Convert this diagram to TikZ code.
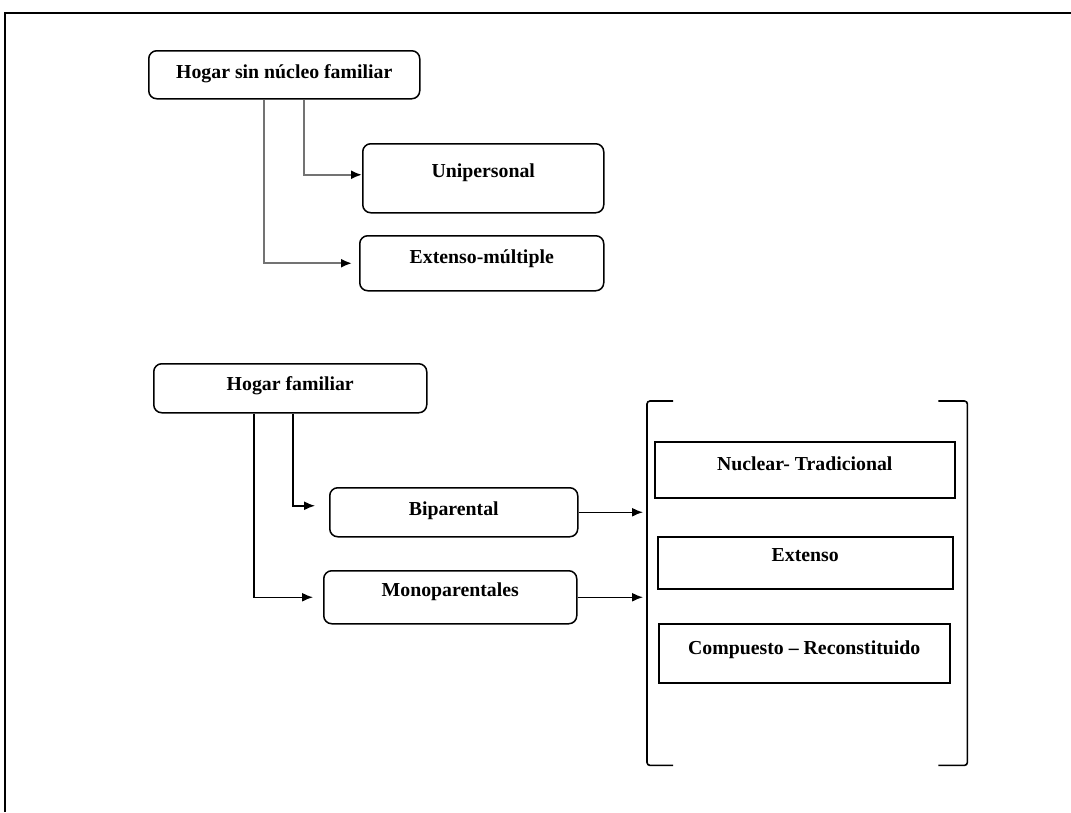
\documentclass[tikz,border=0pt]{standalone}
\usepackage{fontspec}
\setmainfont{Liberation Serif}
\usepackage{tikz}
\usetikzlibrary{arrows.meta,positioning}

\begin{document}
\begin{tikzpicture}[
    x=1pt, y=-1pt,
    box/.style={draw, line width=1.5pt, rounded corners=8pt, anchor=north west, inner xsep=0pt, inner ysep=0pt, text height=28pt, font=\bfseries\fontsize{19.8}{23}\selectfont},
    flat/.style={box, rounded corners=0pt},
    arrow/.style={-{Latex[length=11pt,width=9pt]}, line width=1.5pt},
    grayarrow/.style={-{Latex[length=11pt,width=9pt,color=black]}, draw=black!55, line width=2pt},
    bracket/.style={line width=1.6pt, rounded corners=3pt}
]
\useasboundingbox (0,0) rectangle (1071,812);

% Frame
\draw[line width=1.6pt] (5,812) -- (5,13) -- (1071,13);

% Hogar sin nucleo familiar
\node[box, minimum width=271pt, text depth=20pt] (hsin) at (148,50) {Hogar sin núcleo familiar};
\node[box, minimum width=241pt, text height=34pt, text depth=35pt] (uni) at (362,143) {Unipersonal};
\node[box, minimum width=244pt, text depth=27pt] (ext) at (359,235) {Extenso-múltiple};

\draw[grayarrow] ([xshift=19.5pt]hsin.south) |- ([yshift=3.5pt]uni.west);
\draw[grayarrow, shorten >=7pt] ([xshift=-20.5pt]hsin.south) |- (ext.west);

% Hogar familiar
\node[box, minimum width=273pt, text height=27pt, text depth=22pt] (hfam) at (153,363) {Hogar familiar};
\node[box, minimum width=248pt, text depth=21pt] (bip) at (329,487) {Biparental};
\node[box, minimum width=253pt, text height=26pt, text depth=27pt] (mono) at (323,570) {Monoparentales};

\draw[arrow, shorten >=14pt] ([xshift=2.5pt]hfam.south) |- ([yshift=6.5pt]bip.west);
\draw[arrow, shorten >=10pt] ([xshift=-36.5pt]hfam.south) |- (mono.west);

% Types
\node[minimum width=320pt, minimum height=364pt, inner sep=0pt, anchor=north west] (grp) at (647,401) {};
\node[flat, minimum width=300pt, text height=29pt, text depth=27pt] (nuc) at (654,441) {Nuclear- Tradicional};
\node[flat, minimum width=295pt, text height=25pt, text depth=27pt] (extn) at (657,536) {Extenso};
\node[flat, minimum width=291pt, text height=31pt, text depth=28pt] (comp) at (658,623) {Compuesto -- Reconstituido};

\draw[bracket] ([xshift=26pt]grp.north west) -- (grp.north west) -- (grp.south west) -- ([xshift=26pt]grp.south west);
\draw[bracket] ([xshift=-29pt]grp.north east) -- (grp.north east) -- (grp.south east) -- ([xshift=-29pt]grp.south east);

% Arrows
\draw[arrow, shorten >=4pt] (bip.east) -- (bip.east -| grp.west);
\draw[arrow, shorten >=4pt] (mono.east) -- (mono.east -| grp.west);

\end{tikzpicture}
\end{document}
